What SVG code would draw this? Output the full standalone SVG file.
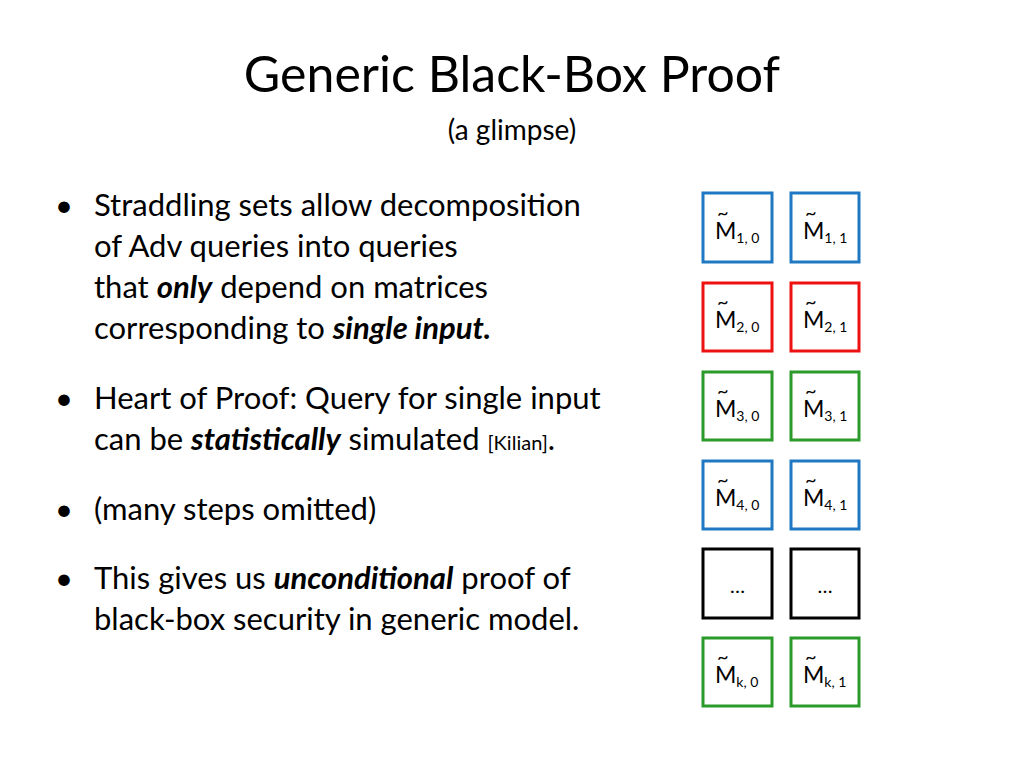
<svg xmlns="http://www.w3.org/2000/svg" width="1024" height="768" viewBox="0 0 1024 768">
<style>
text{font-family:Lato,"Open Sans","Liberation Sans",sans-serif;fill:#000}
.b{font-size:31px}
.box{fill:#fff;stroke-width:3}
.blue{stroke:#1f78c1}.red{stroke:#ee1111}.green{stroke:#2a9a2a}.blk{stroke:#000}
.m{font-size:23px}.s{font-size:14px}.t{font-size:20px}
</style>
<rect width="1024" height="768" fill="#fff"/>
<text x="512" y="92" font-size="50" text-anchor="middle">Generic Black-Box Proof</text>
<text x="512" y="140" font-size="28" text-anchor="middle">(a glimpse)</text>
<g class="b">
<text x="55" y="216">•</text>
<text x="94" y="216">Straddling sets allow decomposition</text>
<text x="94" y="257">of Adv queries into queries</text>
<text x="94" y="298">that <tspan font-weight="bold" font-style="italic">only</tspan> depend on matrices</text>
<text x="94" y="339">corresponding to <tspan font-weight="bold" font-style="italic">single input.</tspan></text>
<text x="55" y="409">•</text>
<text x="94" y="409">Heart of Proof: Query for single input</text>
<text x="94" y="450">can be <tspan font-weight="bold" font-style="italic">statistically</tspan> simulated <tspan font-size="20">[Kilian]</tspan>.</text>
<text x="55" y="520">•</text>
<text x="94" y="520">(many steps omitted)</text>
<text x="55" y="589">•</text>
<text x="94" y="589">This gives us <tspan font-weight="bold" font-style="italic">unconditional</tspan> proof of</text>
<text x="94" y="630">black-box security in generic model.</text>
</g>
<g id="m10"><rect class="box blue" x="703" y="193" width="69" height="69"/><text x="715" y="239" class="m">M<tspan class="s" dy="4">1, 0</tspan></text><text x="717" y="220" class="t">~</text></g>
<g id="m11"><rect class="box blue" x="791" y="193" width="68" height="69"/><text x="803" y="239" class="m">M<tspan class="s" dy="4">1, 1</tspan></text><text x="805" y="220" class="t">~</text></g>
<g id="m20"><rect class="box red" x="703" y="283" width="69" height="68"/><text x="715" y="328" class="m">M<tspan class="s" dy="4">2, 0</tspan></text><text x="717" y="309" class="t">~</text></g>
<g id="m21"><rect class="box red" x="791" y="283" width="68" height="68"/><text x="803" y="328" class="m">M<tspan class="s" dy="4">2, 1</tspan></text><text x="805" y="309" class="t">~</text></g>
<g id="m30"><rect class="box green" x="703" y="372" width="69" height="68"/><text x="715" y="417" class="m">M<tspan class="s" dy="4">3, 0</tspan></text><text x="717" y="398" class="t">~</text></g>
<g id="m31"><rect class="box green" x="791" y="372" width="68" height="68"/><text x="803" y="417" class="m">M<tspan class="s" dy="4">3, 1</tspan></text><text x="805" y="398" class="t">~</text></g>
<g id="m40"><rect class="box blue" x="703" y="461" width="69" height="68"/><text x="715" y="506" class="m">M<tspan class="s" dy="4">4, 0</tspan></text><text x="717" y="487" class="t">~</text></g>
<g id="m41"><rect class="box blue" x="791" y="461" width="68" height="68"/><text x="803" y="506" class="m">M<tspan class="s" dy="4">4, 1</tspan></text><text x="805" y="487" class="t">~</text></g>
<g id="d0"><rect class="box blk" x="703" y="549" width="69" height="69"/><text x="737.5" y="593" font-size="20" text-anchor="middle">…</text></g>
<g id="d1"><rect class="box blk" x="791" y="549" width="68" height="69"/><text x="825" y="593" font-size="20" text-anchor="middle">…</text></g>
<g id="mk0"><rect class="box green" x="703" y="638" width="69" height="68"/><text x="715" y="683" class="m">M<tspan class="s" dy="4">k, 0</tspan></text><text x="717" y="664" class="t">~</text></g>
<g id="mk1"><rect class="box green" x="791" y="638" width="68" height="68"/><text x="803" y="683" class="m">M<tspan class="s" dy="4">k, 1</tspan></text><text x="805" y="664" class="t">~</text></g>
<g id="connectors"/>
</svg>
